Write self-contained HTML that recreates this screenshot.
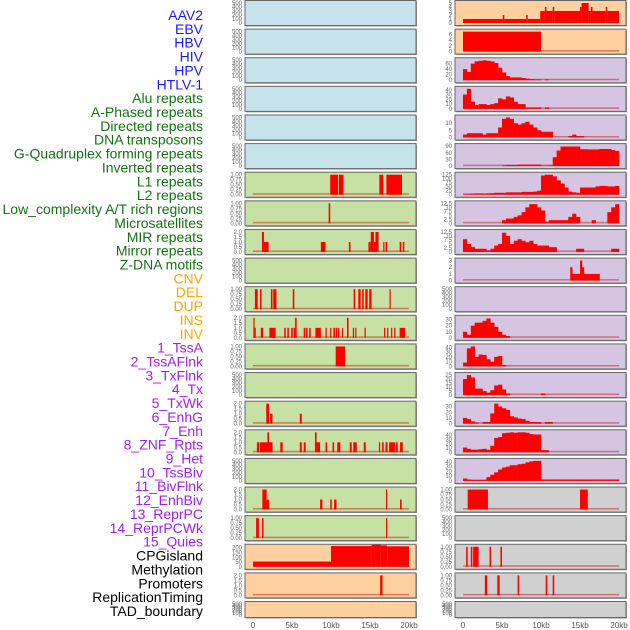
<!DOCTYPE html>
<html><head><meta charset="utf-8"><style>
body{margin:0;background:#fff;width:630px;height:630px;overflow:hidden}
svg{display:block;font-family:"Liberation Sans",sans-serif}
</style></head><body>
<svg id="chart" width="630" height="630" viewBox="0 0 630 630"></svg>
<script>
// ---- data ----
const labels = ["AAV2","EBV","HBV","HIV","HPV","HTLV-1","Alu repeats","A-Phased repeats","Directed repeats","DNA transposons","G-Quadruplex forming repeats","Inverted repeats","L1 repeats","L2 repeats","Low_complexity A/T rich regions","Microsatellites","MIR repeats","Mirror repeats","Z-DNA motifs","CNV","DEL","DUP","INS","INV","1_TssA","2_TssAFlnk","3_TxFlnk","4_Tx","5_TxWk","6_EnhG","7_Enh","8_ZNF_Rpts","9_Het","10_TssBiv","11_BivFlnk","12_EnhBiv","13_ReprPC","14_ReprPCWk","15_Quies","CPGisland","Methylation","Promoters","ReplicationTiming","TAD_boundary"];
const labelGroups = ["v","v","v","v","v","v","r","r","r","r","r","r","r","r","r","r","r","r","r","s","s","s","s","s","c","c","c","c","c","c","c","c","c","c","c","c","c","c","c","o","o","o","o","o"];
const xTickLabels = ["0","5kb","10kb","15kb","20kb"];
const xTickValues = [0,5,10,15,20];
const ticksEmpty = [0,100,200,300,400,500];
const ticksUnit = [0,0.25,0.5,0.75,1.0];
const ticksTwo = [0,0.5,1.0,1.5,2.0];
// sparse segments: [startKb, endKb, value]
const segAlu = [[9.9,10.9,1],[11.0,11.6,1],[16.2,16.7,1],[17.1,19.1,1]];
const segAPhased = [[9.7,9.9,1]];
const segDirected = [[1.15,1.4,2],[1.4,2.0,1],[8.7,9.3,1],[12.3,12.5,1],[14.8,15.1,1],[15.1,15.5,2],[15.5,15.7,1],[15.7,16.1,2],[16.7,16.85,1],[17.0,17.2,1],[18.8,19.0,1],[19.2,19.4,1]];
const segGQuad = [[0.25,0.6,1],[0.9,1.1,1],[2.3,2.5,1],[2.6,3.0,1],[5.1,5.3,1],[12.9,13.1,1],[13.5,13.8,1],[14.0,14.2,1],[14.4,14.7,1],[14.9,15.2,1],[17.5,17.65,1]];
const segInverted = [[0.05,0.2,2],[0.2,0.35,1],[1.0,1.3,1],[2.1,2.9,1],[4.0,4.2,1],[4.4,4.6,1],[4.9,5.1,1],[5.2,5.4,1],[5.4,5.6,2],[6.5,6.7,1],[6.8,7.0,1],[7.2,7.4,1],[8.0,8.7,1],[9.3,9.45,1],[9.9,10.05,1],[10.3,10.5,1],[10.6,10.8,1],[10.9,11.0,1],[11.4,11.55,1],[12.05,12.25,2],[12.8,12.95,1],[13.1,13.25,1],[14.3,14.45,1],[16.8,16.95,1],[17.2,17.35,1],[17.7,17.85,1],[18.1,18.25,1],[18.8,19.5,1]];
const segL1 = [[10.6,11.8,1]];
const segLowComplex = [[1.7,2.05,2],[2.2,2.5,1],[6.0,6.25,1]];
const segMirror = [[0.5,0.8,1],[0.9,1.85,1],[1.85,2.05,2],[2.05,2.5,1],[3.5,3.8,1],[6.0,6.25,1],[6.5,6.75,1],[7.95,8.15,2],[8.15,8.6,1],[9.3,9.5,1],[10.2,10.4,1],[10.8,11.2,1],[12.4,12.65,1],[12.85,13.3,1],[14.2,14.45,1],[16.15,16.3,1],[16.55,16.75,1],[17.0,17.25,1],[17.45,18.2,1],[18.3,18.55,1],[18.85,19.2,1]];
const segZDNA = [[1.2,1.75,2],[1.75,2.05,1],[8.6,8.9,1],[9.9,10.1,1],[10.4,10.7,1],[17.05,17.2,2],[18.85,19.05,1]];
const segZDNA2 = [[0.4,0.75,1],[1.15,1.35,1],[17.05,17.2,1]];
const segCNV = [[0,10,55],[10,15.2,218],[15.2,16.4,232],[16.4,17.2,225],[17.2,20,215]];
const segDEL = [[16.3,16.6,2]];
const segINS = [[0,5.1,1],[5.1,5.3,2],[5.3,8.1,1],[8.1,8.3,2],[8.3,9.9,1],[9.9,10.5,3],[10.5,10.7,4],[10.7,11.5,3],[11.5,11.7,4],[11.7,15.0,3],[15.0,15.2,4],[15.2,16.1,5],[16.1,16.4,3],[16.4,16.6,4],[16.6,18.3,3],[18.3,18.5,4],[18.5,20,3]];
const segINV = [[0,10,7]];
const segCPG = [[0.6,3.2,1],[15.0,16.0,1]];
const segPromoters = [[0.4,0.6,1],[1.0,1.2,1],[1.3,2.0,1],[3.4,3.6,1],[4.8,5.0,1]];
const segRepTiming = [[2.8,3.1,1],[4.4,4.7,1],[7.0,7.2,1],[10.6,10.8,1],[11.5,11.7,1]];
// binned series (bins spread evenly over 0-20kb)
const binsTssA = [40,30,60,68,70,72,70,68,62,45,28,15,10,10,10,8,6,4,3,3,0,3,0,0,0,0,0,0,0,0,0,0,0,0,0,0,0,0,0,0];
const binsTssAFlnk = [30,42,15,8,10,10,8,10,12,22,20,26,24,15,10,10,3,3,3,3,0,3,0,0,0,0,0,0,0,0,0,0,0,0,0,0,0,0,0,0];
const binsTxFlnk = [2,3,3,3,3,2,3,3,3,7,13,14,13,10,9,10,11,9,7,5,4,4,4,0,0,0,0,1,2,1,1,0,0,0,0,0,0,0,0,0];
const binsTx = [0,0,0,0,0,0,0,0,0,0,3,5,5,5,7,7,7,7,7,7,2,2,3,40,70,88,88,88,88,88,76,76,75,75,75,77,77,77,72,68];
const binsTxWk = [3,3,5,7,7,5,8,10,12,12,12,15,15,15,15,18,18,18,20,25,120,125,125,115,90,70,45,20,15,12,45,45,45,45,52,55,55,52,52,55];
const binsEnhG = [0,0,0,0,0,0,0,0,0,0,2,3,3,4,5,7,10,12,12,10,8,1,2,2,2,2,2,4,6,4,0,0,0,2,0,0,0,7,10,12];
const binsEnh = [8,5,3,2,2,2,1,2,4,5,12,10,5,7,8,7,6,7,5,4,4,4,3,3,0,0,0,0,0,2,2,0,0,0,0,0,0,0,2,2];
const binsZNF = [0,0,0,0,0,0,0,0,0,0,0,0,0,0,0,0,0,0,0,0,0,0,0,0,0,0,0,0,0,0,0,0,0,0,0,0,0,0,0,0,0,0,0,0,0,0,0,0,0,0,0,0,0,0,0,2,1,1,1,1,3,2,1,1,1,1,1,1,1,1,0,0,0,0,0,0,0,0,0,0];
const binsTssBiv = [10,5,20,25,25,28,32,25,18,10,5,3,0,0,0,0,0,0,0,0,0,0,0,0,0,0,0,0,0,0,0,0,0,0,0,0,0,0,0,0];
const binsBivFlnk = [8,38,42,20,25,24,15,10,20,22,3,0,0,0,0,0,0,0,0,0,0,0,0,0,0,0,0,0,0,0,0,0,0,0,0,0,0,0,0,0];
const binsEnhBiv = [20,25,22,8,8,5,3,6,12,13,7,2,0,0,0,0,0,0,0,0,2,0,0,0,0,0,0,0,0,0,0,0,0,0,0,0,0,0,0,0];
const binsReprPC = [10,8,4,2,0,3,3,18,35,30,27,24,13,11,9,8,5,3,3,3,0,3,3,0,0,0,0,0,0,0,0,0,0,0,0,0,0,0,0,0];
const binsReprPCWk = [11,8,6,6,7,8,6,15,33,35,44,45,46,45,46,46,45,42,41,41,5,5,0,0,0,0,0,0,0,0,0,0,0,0,0,0,0,0,0,0];
const binsQuies = [5,3,2,2,2,2,8,13,18,24,28,30,33,33,35,36,39,41,42,42,3,3,3,3,3,3,3,3,3,3,3,3,3,3,3,3,3,3,3,3];

// panel specs: [bgColor, ticks, ymax, kind, data]
const BL="#c6e3eb", GR="#c7e0a3", PE="#ffd09f", LV="#d6c5e2", GY="#d0d0d0";
const panels = [
 [BL,ticksEmpty,500,"none",null],[BL,ticksEmpty,500,"none",null],[BL,ticksEmpty,500,"none",null],
 [BL,ticksEmpty,500,"none",null],[BL,ticksEmpty,500,"none",null],[BL,ticksEmpty,500,"none",null],
 [GR,ticksUnit,1,"seg",segAlu],[GR,ticksUnit,1,"seg",segAPhased],[GR,ticksTwo,2,"seg",segDirected],
 [GR,ticksEmpty,500,"none",null],[GR,ticksUnit,1,"seg",segGQuad],[GR,ticksTwo,2,"seg",segInverted],
 [GR,ticksUnit,1,"seg",segL1],[GR,ticksEmpty,500,"none",null],[GR,ticksTwo,2,"seg",segLowComplex],
 [GR,ticksTwo,2,"seg",segMirror],[GR,ticksEmpty,500,"none",null],[GR,ticksTwo,2,"seg",segZDNA],
 [GR,ticksUnit,1,"seg",segZDNA2],[PE,[0,50,100,150,200],210,"seg",segCNV],[PE,ticksTwo,2,"seg",segDEL],
 [PE,ticksEmpty,500,"none",null],
 [PE,[0,1,2,3,4,5],5,"seg",segINS],[PE,[0,2,4,6],7,"seg",segINV],
 [LV,[0,20,40,60],72,"bins",binsTssA],[LV,[0,10,20,30,40],42,"bins",binsTssAFlnk],
 [LV,[0,5,10],14,"bins",binsTxFlnk],[LV,[0,30,60,90],90,"bins",binsTx],
 [LV,[0,25,50,75,100,125],125,"bins",binsTxWk],[LV,[0,2.5,5,7.5,10,12.5],12.5,"bins",binsEnhG],
 [LV,[0,2.5,5,7.5,10,12.5],12.5,"bins",binsEnh],[LV,[0,1,2,3],3,"bins",binsZNF],
 [LV,ticksEmpty,500,"none",null],[LV,[0,10,20,30],33,"bins",binsTssBiv],
 [LV,[0,10,20,30,40],42,"bins",binsBivFlnk],[LV,[0,5,10,15,20,25],25,"bins",binsEnhBiv],
 [LV,[0,10,20,30],35,"bins",binsReprPC],[LV,[0,10,20,30,40],46,"bins",binsReprPCWk],
 [LV,[0,10,20,30,40],42,"bins",binsQuies],
 [GY,ticksUnit,1,"seg",segCPG],[GY,ticksEmpty,500,"none",null],[GY,ticksUnit,1,"seg",segPromoters],
 [GY,ticksUnit,1,"seg",segRepTiming],[GY,ticksEmpty,500,"none",null]
];

// ---- drawing ----
const NS="http://www.w3.org/2000/svg";
const svg=document.getElementById("chart");
function mk(tag,attrs,parent){const e=document.createElementNS(NS,tag);for(const k in attrs)e.setAttribute(k,attrs[k]);(parent||svg).appendChild(e);return e;}
const groupColor={v:"#1a1aff",r:"#137313",s:"#ffa500",c:"#a020f0",o:"#000000"};
function slug(s){return s.toLowerCase().replace(/[^a-z0-9]+/g,"-").replace(/^-|-$/g,"");}

labels.forEach((lab,i)=>{
  const t=mk("text",{x:203,y:20+i*13.86,"text-anchor":"end","font-size":"14",fill:groupColor[labelGroups[i]]});
  t.textContent=lab;
  
  
});

const colX=[245,455];
const rowStep=28.62;
function xScale(col,kb){return colX[col]+8+kb*7.8;}
panels.forEach((p,idx)=>{
  const col=idx<22?0:1, row=idx%22;
  const top=row*rowStep+0.5, h=(row===21)?16:25;
  const [bg,ticks,ymax,kind,data]=p;
  const g=mk("g",{});
  
  
  mk("rect",{x:colX[col]+1,y:top+1,width:171,height:h,fill:"#999"},g);
  mk("rect",{x:colX[col],y:top,width:171,height:h,fill:bg,stroke:"#666","stroke-width":"1"},g);
  const y0=top+h-2.5, yTop=top+2.5;
  const yScale=v=>y0-(v/ymax)*(y0-yTop);
  ticks.forEach(tv=>{
    const tt=mk("text",{x:colX[col]-3,y:yScale(tv)+2,"text-anchor":"end","font-size":"6",fill:"#666"},g);
    tt.textContent=(ticks===ticksUnit)?tv.toFixed(2):(ticks===ticksTwo?tv.toFixed(1):String(tv));
    
    
  });
  if(kind==="none")return;
  mk("rect",{x:xScale(col,0),y:y0-1.5,width:xScale(col,20)-xScale(col,0),height:1.5,fill:"rgba(200,0,0,0.45)"},g);
  if(kind==="seg"){
    data.forEach(s=>{
      const r=mk("rect",{x:xScale(col,s[0]),y:yScale(s[2]),width:Math.max(1.2,xScale(col,s[1])-xScale(col,s[0])),height:y0-yScale(s[2]),fill:"#ff0000"},g);
      
      
    });
  } else {
    const n=data.length, w=20/n;
    data.forEach((v,i)=>{
      if(v<=0)return;
      const r=mk("rect",{x:xScale(col,i*w),y:yScale(v),width:xScale(col,(i+1)*w)-xScale(col,i*w)+0.3,height:y0-yScale(v),fill:"#ff0000"},g);
      
      
    });
  }
});
[0,1].forEach(col=>{
  xTickValues.forEach((kb,i)=>{
    const t=mk("text",{x:xScale(col,kb),y:628,"text-anchor":"middle","font-size":"8",fill:"#555"});
    t.textContent=xTickLabels[i];
    
    
  });
});
</script>
</body></html>
